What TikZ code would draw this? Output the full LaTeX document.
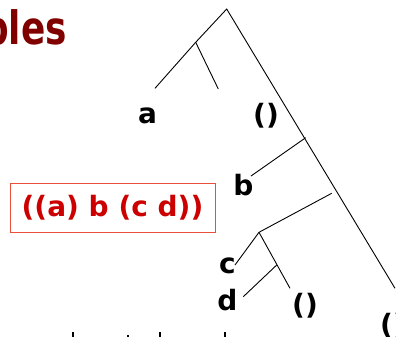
\documentclass[tikz,border=0pt]{standalone}
\usepackage{fontspec}
\setmainfont{DejaVu Sans}
\definecolor{titlered}{HTML}{800000}
\definecolor{boxred}{HTML}{E8503A}
\definecolor{textred}{HTML}{CC0000}
\begin{document}
\begin{tikzpicture}[x=1pt,y=-1pt,
  edge/.style={line width=0.9pt,black},
  leaf/.style={anchor=base,inner sep=0pt,font=\fontsize{28}{30}\selectfont\bfseries},
  cutmark/.style={line width=2.6pt,black}]
\useasboundingbox (0,0) rectangle (396,337);
% title (cut off)
\node[anchor=base east,inner sep=0pt,text=titlered,font=\fontsize{46}{50}\selectfont\bfseries] (title) at (67,45) {\scalebox{0.78}[1]{Examples}};
% list box
\node[draw=boxred,line width=1pt,minimum width=205pt,minimum height=49pt,inner sep=0pt,
      text=textred,font=\fontsize{28}{30}\selectfont\bfseries] (list) at (112.5,207.8) {((a) b (c d))};
% tree points
\coordinate (root) at (226.7,9);
\coordinate (n1) at (195.7,42.3);
\coordinate (aend) at (155,88.3);
\coordinate (n1r) at (218.3,89);
\coordinate (n2) at (305.7,137.7);
\coordinate (bend) at (251,176);
\coordinate (n3s) at (331.7,193.3);
\coordinate (n3) at (259,232.3);
\coordinate (cend) at (235,265);
\coordinate (n4) at (276.7,265);
\coordinate (e2end) at (290,288.3);
\coordinate (dend) at (243.3,296.7);
\coordinate (mainend) at (395,288.3);
% edges
\draw[edge] (aend) -- (n1) -- (root) -- (mainend);
\draw[edge] (n1) -- (n1r);
\draw[edge] (n2) -- (bend);
\draw[edge] (n3s) -- (n3) -- (cend);
\draw[edge] (n3) -- (e2end);
\draw[edge] (n4) -- (dend);
% leaves
\node[leaf] (la) at (147.5,123) {a};
\node[leaf] (le1) at (266,124) {()};
\node[leaf] (lb) at (243.5,195) {b};
\node[leaf] (lc) at (227.5,273) {c};
\node[leaf] (ld) at (227.5,310) {d};
\node[leaf] (le2) at (305,314) {()};
\node[leaf,anchor=base west] (le3) at (380,334) {()};
% cut-off text at bottom
\draw[cutmark] (73,332) -- (73,338);
\draw[cutmark] (128,335) -- (128,338);
\draw[cutmark] (160,332) -- (160,338);
\draw[cutmark] (225,332) -- (225,338);
\end{tikzpicture}
\end{document}
